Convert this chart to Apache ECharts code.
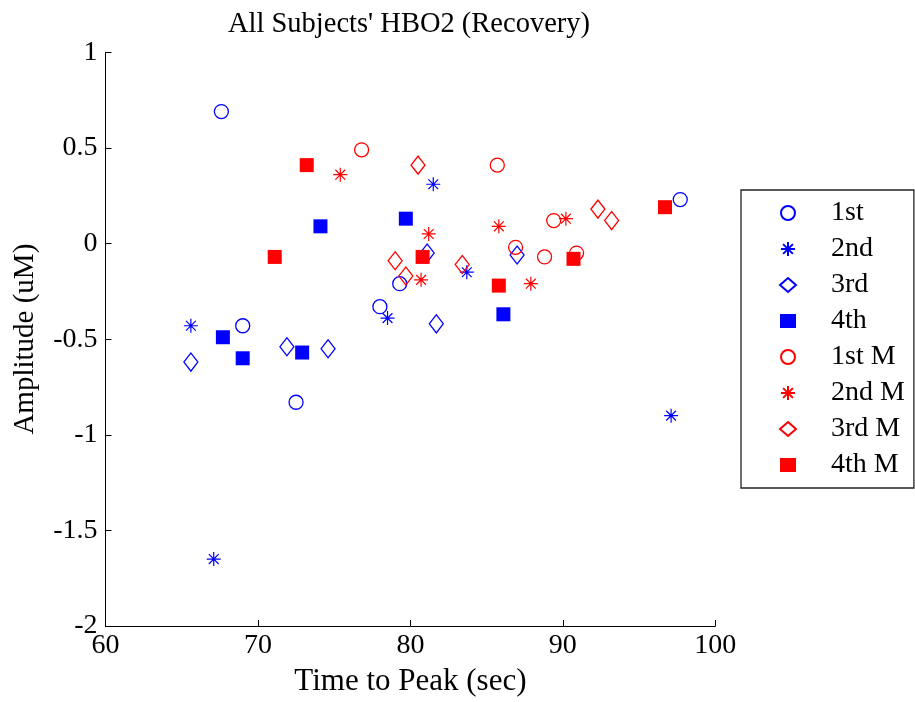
<!DOCTYPE html>
<html>
<head>
<meta charset="utf-8">
<script src="https://cdn.jsdelivr.net/npm/echarts@6/dist/echarts.min.js"></script>
<style>
html,body{margin:0;padding:0;background:#fff;}
#chart{width:915px;height:702px;}
</style>
</head>
<body>
<div id="chart"></div>
<script>
// Data: [time to peak (sec), amplitude (uM)]
const first   = [[67.6,0.69],[69.0,-0.43],[72.5,-0.83],[78.0,-0.33],[79.3,-0.21],[97.7,0.23]];
const second  = [[65.6,-0.43],[67.1,-1.65],[78.5,-0.39],[81.5,0.31],[83.7,-0.15],[97.1,-0.90]];
const third   = [[65.6,-0.62],[71.9,-0.54],[74.6,-0.55],[81.1,-0.05],[81.7,-0.42],[87.0,-0.06]];
const fourth  = [[67.7,-0.49],[69.0,-0.60],[72.9,-0.57],[74.1,0.09],[79.7,0.13],[86.1,-0.37]];
const firstM  = [[76.8,0.49],[85.7,0.41],[86.9,-0.02],[88.8,-0.07],[89.4,0.12],[90.9,-0.05]];
const secondM = [[75.4,0.36],[80.7,-0.19],[81.2,0.05],[85.8,0.09],[87.9,-0.21],[90.2,0.13]];
const thirdM  = [[79.0,-0.09],[79.7,-0.17],[80.5,0.41],[83.4,-0.11],[92.3,0.18],[93.2,0.12]];
const fourthM = [[71.1,-0.07],[73.2,0.41],[80.8,-0.07],[85.8,-0.22],[90.7,-0.08],[96.7,0.19]];
const seriesNames = ['1st','2nd','3rd','4th','1st M','2nd M','3rd M','4th M'];
const xTicks = [60,70,80,90,100];
const yTicks = [-2,-1.5,-1,-0.5,0,0.5,1];

const FONT = 'Liberation Serif';
const BLUE = '#0000ff', RED = '#ff0000';
const ASTER = 'path://M0,-10L0,10M-10,0L10,0M-7,-7L7,7M-7,7L7,-7';

function mk(name, data, kind, col){
  const s = {name:name, type:'scatter', data:data, z:3, emphasis:{disabled:true}};
  if(kind==='circle'){
    s.symbol='circle'; s.symbolSize=14;
    s.itemStyle={color:'rgba(0,0,0,0)', borderColor:col, borderWidth:1.3, opacity:1};
  } else if(kind==='aster'){
    s.symbol=ASTER; s.symbolSize=14;
    s.itemStyle={color:'rgba(0,0,0,0)', borderColor:col, borderWidth:1.2, opacity:1};
  } else if(kind==='diamond'){
    s.symbol='diamond'; s.symbolSize=[14,18];
    s.itemStyle={color:'rgba(0,0,0,0)', borderColor:col, borderWidth:1.3, opacity:1};
  } else {
    s.symbol='rect'; s.symbolSize=14;
    s.itemStyle={color:col, borderWidth:0, opacity:1};
  }
  return s;
}

const chart = echarts.init(document.getElementById('chart'), null, {renderer:'canvas'});
chart.setOption({
  backgroundColor:'#fff',
  animation:false,
  title:{
    text:"All Subjects' HBO2 (Recovery)",
    left:404, textAlign:'center', top:5,
    textStyle:{fontFamily:FONT, fontSize:28.5, fontWeight:'normal', color:'#000'}
  },
  grid:{left:105.5, right:199.7, top:52.3, bottom:76, containLabel:false},
  xAxis:{
    type:'value', min:xTicks[0], max:xTicks[xTicks.length-1], interval:10,
    name:'Time to Peak (sec)', nameLocation:'middle', nameGap:40,
    nameTextStyle:{fontFamily:FONT, fontSize:31, color:'#000'},
    axisLine:{show:true, onZero:false, lineStyle:{color:'#000', width:1}},
    axisTick:{show:true, inside:true, length:6, lineStyle:{color:'#000'}},
    axisLabel:{fontFamily:FONT, fontSize:28, color:'#000', margin:6},
    splitLine:{show:false}
  },
  yAxis:{
    type:'value', min:yTicks[0], max:yTicks[yTicks.length-1], interval:0.5,
    name:'Amplitude (uM)', nameLocation:'middle', nameGap:66,
    nameTextStyle:{fontFamily:FONT, fontSize:29, color:'#000'},
    axisLine:{show:true, onZero:false, lineStyle:{color:'#000', width:1}},
    axisTick:{show:true, inside:true, length:6, lineStyle:{color:'#000'}},
    axisLabel:{fontFamily:FONT, fontSize:28, color:'#000', margin:8},
    splitLine:{show:false}
  },
  legend:{
    orient:'vertical', left:741, top:190,
    padding:[9,9,9,38],
    backgroundColor:'#fff', borderColor:'#222', borderWidth:1.3, borderRadius:0,
    itemWidth:16, itemHeight:14, itemGap:8,
    textStyle:{fontFamily:FONT, fontSize:28, color:'#000', lineHeight:28, width:73, padding:[0,0,0,30]},
    data:seriesNames
  },
  series:[
    mk(seriesNames[0], first, 'circle', BLUE),
    mk(seriesNames[1], second, 'aster', BLUE),
    mk(seriesNames[2], third, 'diamond', BLUE),
    mk(seriesNames[3], fourth, 'rect', BLUE),
    mk(seriesNames[4], firstM, 'circle', RED),
    mk(seriesNames[5], secondM, 'aster', RED),
    mk(seriesNames[6], thirdM, 'diamond', RED),
    mk(seriesNames[7], fourthM, 'rect', RED)
  ]
});
</script>
</body>
</html>
